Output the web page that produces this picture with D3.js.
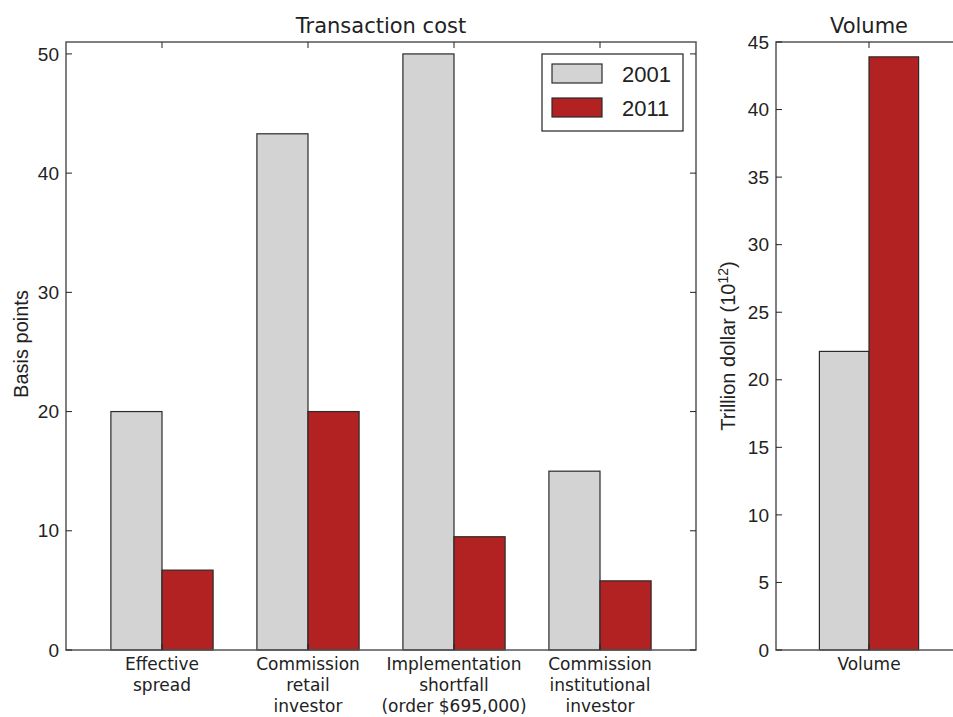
<!DOCTYPE html>
<html>
<head>
<meta charset="utf-8">
<script src="https://cdn.jsdelivr.net/npm/d3@7"></script>
<style>
  html, body { margin: 0; padding: 0; background: #fff; }
  svg { display: block; }
  .tick-label { font-family: "Liberation Sans", Arial, sans-serif; font-size: 19px; fill: #222; }
  .cat-label { font-family: "DejaVu Sans", sans-serif; font-size: 17px; fill: #222; }
  .title { font-family: "DejaVu Sans", sans-serif; font-size: 21px; fill: #222; }
  .axis-title { font-family: "Liberation Sans", Arial, sans-serif; font-size: 20px; fill: #222; }
  .legend-text { font-family: "Liberation Sans", Arial, sans-serif; font-size: 22px; fill: #222; }
</style>
</head>
<body>
<svg id="chart" width="953" height="717"></svg>
<script>
// Transaction cost by category (basis points)
const categories = [
  ["Effective", "spread"],
  ["Commission", "retail", "investor"],
  ["Implementation", "shortfall", "(order $695,000)"],
  ["Commission", "institutional", "investor"]
];
const years = ["2001", "2011"];
const cost2001 = [20, 43.3, 50, 15];
const cost2011 = [6.7, 20, 9.5, 5.8];
const costTicks = [0, 10, 20, 30, 40, 50];

// Trading volume (trillion dollar)
const volumeCategory = ["Volume"];
const volume2001 = [22.1];
const volume2011 = [43.9];
const volumeTicks = [0, 5, 10, 15, 20, 25, 30, 35, 40, 45];

const colors = { "2001": "#d3d3d3", "2011": "#b22222" };
const edge = "#2a2a2a";
const axisColor = "#555";

const svg = d3.select("#chart");

function panel(opts) {
  const { left, right, top, bottom, xDomain, yDomain, centers, s1, s2, barW, ticks, title } = opts;
  const g = svg.append("g");
  const x = d3.scaleLinear().domain(xDomain).range([left, right]);
  const y = d3.scaleLinear().domain(yDomain).range([bottom, top]);

  // bars
  const data = [];
  centers.forEach((c, i) => {
    data.push({ x0: c - barW, v: s1[i], year: "2001" });
    data.push({ x0: c, v: s2[i], year: "2011" });
  });
  g.selectAll("rect.bar").data(data).enter().append("rect")
    .attr("class", "bar")
    .attr("x", d => x(d.x0))
    .attr("width", d => x(d.x0 + barW) - x(d.x0))
    .attr("y", d => y(d.v))
    .attr("height", d => y(0) - y(d.v))
    .attr("fill", d => colors[d.year])
    .attr("stroke", edge)
    .attr("stroke-width", 1.2);

  // frame
  g.append("rect")
    .attr("x", left).attr("y", top)
    .attr("width", right - left).attr("height", bottom - top)
    .attr("fill", "none").attr("stroke", axisColor).attr("stroke-width", 1.5);

  // y ticks (inward on both sides)
  ticks.forEach(t => {
    g.append("line").attr("x1", left).attr("x2", left + 6)
      .attr("y1", y(t)).attr("y2", y(t)).attr("stroke", "#222").attr("stroke-width", 1);
    g.append("line").attr("x1", right).attr("x2", right - 6)
      .attr("y1", y(t)).attr("y2", y(t)).attr("stroke", "#222").attr("stroke-width", 1);
    g.append("text").attr("class", "tick-label")
      .attr("x", left - 7).attr("y", y(t)).attr("dy", "0.35em")
      .attr("text-anchor", "end").text(t);
  });
  // x ticks at category centres (top and bottom, inward)
  centers.forEach(c => {
    g.append("line").attr("x1", x(c)).attr("x2", x(c))
      .attr("y1", top).attr("y2", top + 6).attr("stroke", "#222").attr("stroke-width", 1);
    g.append("line").attr("x1", x(c)).attr("x2", x(c))
      .attr("y1", bottom).attr("y2", bottom - 6).attr("stroke", "#222").attr("stroke-width", 1);
  });

  g.append("text").attr("class", "title")
    .attr("x", (left + right) / 2).attr("y", top - 9)
    .attr("text-anchor", "middle").text(title);
  return { g, x, y };
}

// Left panel: transaction cost
const catIdx = categories.map((d, i) => i);
const p1 = panel({
  left: 66, right: 696, top: 42, bottom: 650,
  xDomain: [-0.6575, 3.6575], yDomain: [0, 51],
  centers: catIdx, s1: cost2001, s2: cost2011, barW: 0.35,
  ticks: costTicks, title: "Transaction cost"
});
categories.forEach((lines, i) => {
  const t = p1.g.append("text").attr("class", "cat-label")
    .attr("text-anchor", "middle")
    .attr("x", p1.x(i)).attr("y", 670);
  lines.forEach((ln, k) => {
    t.append("tspan").attr("x", p1.x(i)).attr("dy", k === 0 ? 0 : 21).text(ln);
  });
});
p1.g.append("text").attr("class", "axis-title")
  .attr("transform", `translate(28,344) rotate(-90)`)
  .attr("text-anchor", "middle").text("Basis points");

// Legend
const lg = p1.g.append("g");
lg.append("rect").attr("x", 542).attr("y", 54).attr("width", 141).attr("height", 77)
  .attr("fill", "#fff").attr("stroke", "#222").attr("stroke-width", 1.2);
years.forEach((yr, i) => {
  lg.append("rect").attr("x", 552).attr("y", 64 + i * 34).attr("width", 50).attr("height", 19)
    .attr("fill", colors[yr]).attr("stroke", edge).attr("stroke-width", 1.2);
  lg.append("text").attr("class", "legend-text")
    .attr("x", 622).attr("y", 74 + i * 34).attr("dy", "0.36em").text(yr);
});

// Right panel: volume (its right edge runs past the page)
const p2 = panel({
  left: 776, right: 962, top: 42, bottom: 650,
  xDomain: [-0.6375, 0.6375], yDomain: [0, 45],
  centers: [0], s1: volume2001, s2: volume2011, barW: 0.34,
  ticks: volumeTicks, title: "Volume"
});
p2.g.append("text").attr("class", "cat-label")
  .attr("x", p2.x(0)).attr("y", 670).attr("text-anchor", "middle").text(volumeCategory[0]);
const yl = p2.g.append("text").attr("class", "axis-title")
  .attr("transform", `translate(735,346) rotate(-90)`)
  .attr("text-anchor", "middle");
yl.append("tspan").text("Trillion dollar (10");
yl.append("tspan").attr("dy", -7).attr("font-size", 14).text("12");
yl.append("tspan").attr("dy", 7).text(")");
</script>
</body>
</html>
